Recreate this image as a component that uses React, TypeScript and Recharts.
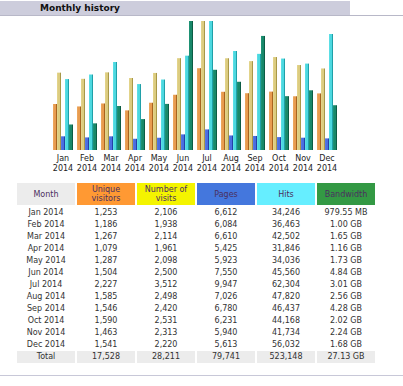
import React from "react";
import { BarChart, Bar, XAxis, YAxis } from "recharts";

const months = ["Jan", "Feb", "Mar", "Apr", "May", "Jun", "Jul", "Aug", "Sep", "Oct", "Nov", "Dec"];
const year = "2014";
const visitors = [1253, 1186, 1267, 1079, 1287, 1504, 2227, 1585, 1546, 1590, 1463, 1541];
const visits = [2106, 1938, 2114, 1961, 2098, 2500, 3512, 2498, 2420, 2531, 2313, 2220];
const pages = [6612, 6084, 6610, 5425, 5923, 7550, 9947, 7026, 6780, 6231, 5940, 5613];
const hits = [34246, 36463, 42502, 31846, 34036, 45560, 62304, 47820, 46437, 44168, 41734, 56032];
const bandwidthGB = [0.957, 1.0, 1.65, 1.16, 1.73, 4.84, 3.01, 2.56, 4.28, 2.02, 2.24, 1.68];
const bandwidthLabels = ["979.55 MB", "1.00 GB", "1.65 GB", "1.16 GB", "1.73 GB", "4.84 GB", "3.01 GB", "2.56 GB", "4.28 GB", "2.02 GB", "2.24 GB", "1.68 GB"];
const totals = ["17,528", "28,211", "79,741", "523,148", "27.13 GB"];
const headers = ["Month", "Unique visitors", "Number of visits", "Pages", "Hits", "Bandwidth"];
const headerColors = ["#ECECEC", "#FF9933", "#F4F400", "#4477DD", "#66EEFF", "#339944"];

const data = months.map((m, i) => ({
  month: m,
  visitors: visitors[i],
  visits: visits[i],
  pages: pages[i],
  hits: hits[i],
  bw: bandwidthGB[i],
}));

const fmt = (n: number) => n.toLocaleString("en-US");

const FONT = "'DejaVu Sans', Verdana, sans-serif";

const Tick = (props: any) => {
  const { x, y, payload } = props;
  return (
    <text x={x} y={y} textAnchor="middle" fontFamily={FONT} fontSize={8} fill="#222">
      <tspan x={x} dy={11}>{payload.value}</tspan>
      <tspan x={x} dy={9.5}>{year}</tspan>
    </text>
  );
};

const grads = [
  { id: "gVis", c: ["#EEAC64", "#E89C50", "#A86420"] },
  { id: "gVst", c: ["#E6D890", "#DCCC80", "#A89848"] },
  { id: "gPag", c: ["#5C7CE8", "#4A6EE0", "#2440A8"] },
  { id: "gHit", c: ["#66E2E8", "#4CD8E0", "#20A0A8"] },
  { id: "gBw", c: ["#22987A", "#18886A", "#0C5C44"] },
];

export default function App() {
  const cellBase: React.CSSProperties = {
    width: 58,
    textAlign: "center",
    fontFamily: FONT,
    fontSize: 8,
    color: "#333",
    flex: "none",
  };
  return (
    <div style={{ position: "absolute", left: 0, top: 0, width: 403, height: 386, background: "#fff", overflow: "hidden" }}>
      <div style={{ position: "absolute", left: 0, top: 1, width: 350, height: 14, background: "#CDCDDC" }} />
      <div style={{ position: "absolute", left: 0, top: 15, width: 403, height: 1, background: "#B8B8C8" }} />
      <div style={{ position: "absolute", left: 40, top: 2, height: 12, lineHeight: "12px", fontFamily: FONT, fontSize: 9, fontWeight: "bold", color: "#111" }}>
        Monthly history
      </div>
      <div style={{ position: "absolute", left: 0, top: 0 }}>
        <BarChart
          width={403}
          height={180}
          data={data}
          margin={{ top: 21, right: 64, bottom: 0, left: 51 }}
          barSize={4}
          barGap={0}
        >
          <defs>
            {grads.map((g) => (
              <linearGradient key={g.id} id={g.id} x1="0" y1="0" x2="1" y2="0">
                <stop offset="0%" stopColor={g.c[0]} />
                <stop offset="30%" stopColor={g.c[1]} />
                <stop offset="74%" stopColor={g.c[1]} />
                <stop offset="75%" stopColor={g.c[2]} />
                <stop offset="100%" stopColor={g.c[2]} />
              </linearGradient>
            ))}
          </defs>
          <XAxis dataKey="month" height={30} axisLine={false} tickLine={false} tickSize={0} tickMargin={0} interval={0} tick={<Tick />} />
          <YAxis yAxisId="v" hide domain={[0, "dataMax"]} />
          <YAxis yAxisId="h" hide domain={[0, "dataMax"]} />
          <YAxis yAxisId="b" hide domain={[0, "dataMax"]} />
          <Bar yAxisId="v" dataKey="visitors" fill="url(#gVis)" isAnimationActive={false} />
          <Bar yAxisId="v" dataKey="visits" fill="url(#gVst)" isAnimationActive={false} />
          <Bar yAxisId="h" dataKey="pages" fill="url(#gPag)" isAnimationActive={false} />
          <Bar yAxisId="h" dataKey="hits" fill="url(#gHit)" isAnimationActive={false} />
          <Bar yAxisId="b" dataKey="bw" fill="url(#gBw)" isAnimationActive={false} />
        </BarChart>
      </div>
      <div style={{ position: "absolute", left: 17, top: 183, display: "flex", gap: 2 }}>
        {headers.map((h, i) => (
          <div
            key={h}
            style={{
              ...cellBase,
              height: 22,
              background: headerColors[i],
              color: "#4A3060",
              display: "flex",
              alignItems: "center",
              justifyContent: "center",
              lineHeight: "9px",
              padding: "0 6px",
              boxSizing: "border-box",
            }}
          >
            {h}
          </div>
        ))}
      </div>
      <div style={{ position: "absolute", left: 17, top: 207 }}>
        {months.map((m, i) => (
          <div key={m} style={{ display: "flex", gap: 2, height: 12, lineHeight: "12px" }}>
            <div style={cellBase}>{m} {year}</div>
            <div style={cellBase}>{fmt(visitors[i])}</div>
            <div style={cellBase}>{fmt(visits[i])}</div>
            <div style={cellBase}>{fmt(pages[i])}</div>
            <div style={cellBase}>{fmt(hits[i])}</div>
            <div style={cellBase}>{bandwidthLabels[i]}</div>
          </div>
        ))}
        <div style={{ display: "flex", gap: 2, height: 12, lineHeight: "12px" }}>
          <div style={{ ...cellBase, background: "#ECECEC" }}>Total</div>
          {totals.map((t) => (
            <div key={t} style={{ ...cellBase, background: "#ECECEC" }}>{t}</div>
          ))}
        </div>
      </div>
      <div style={{ position: "absolute", left: 0, top: 375, width: 403, height: 1, background: "#C8C8D8" }} />
    </div>
  );
}
